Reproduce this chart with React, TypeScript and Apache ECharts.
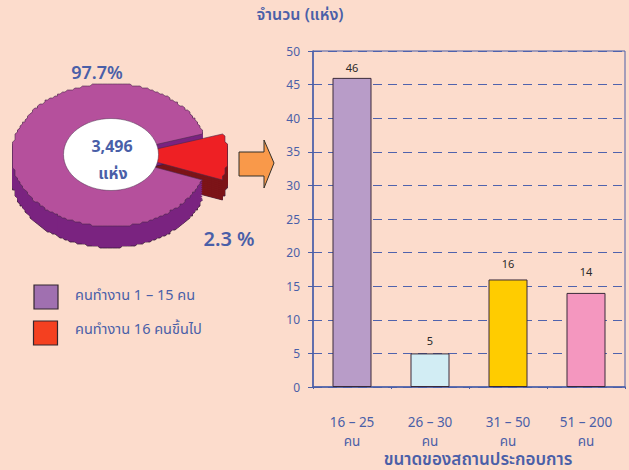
import React, { useEffect, useRef } from "react";
import * as echarts from "echarts";

const categories = ["16 – 25\nคน", "26 – 30\nคน", "31 – 50\nคน", "51 – 200\nคน"];
const barValues = [46, 5, 16, 14];
const barColors = ["#b89cc8", "#d2edf4", "#ffcc00", "#f497bf"];
const barLabelGaps = [5, 7, 10, 16];
const yTicks = { min: 0, max: 50, interval: 5 };

// Printed shares, and the share of the ellipse each slice occupies as drawn in the picture.
const printedShares = ["97.7%", "2.3 %"];
const drawnShares = [89.7, 10.3];
const legendLabels = ["คนทำงาน 1 – 15 คน", "คนทำงาน 16 คนขึ้นไป"];
const centerLabels = ["3,496", "แห่ง"];

const FONT = "'Noto Sans', 'Noto Sans Thai', 'Noto Sans Thai UI', Tahoma, sans-serif";
const BLUE = "#4a5fa8";

const CX = 110, CY = 155, RX = 98, RY = 71.5, DEPTH = 21, RED_DX = 20;

// layer: 0 red wall, 1 purple wall, 2 purple top, 3 red top
const layers = [
  { slice: 1, top: false, fill: "#7c1418" },
  { slice: 0, top: false, fill: "#7a2380" },
  { slice: 0, top: true, fill: "#b5509c" },
  { slice: 1, top: true, fill: "#ee2024" },
];

function slicePoints(slice: number, dy: number) {
  const total = drawnShares[0] + drawnShares[1];
  const redSweep = (drawnShares[1] / total) * 360;
  const lowAngle = -(redSweep * 0.54);
  const from = slice === 1 ? lowAngle : lowAngle + redSweep;
  const sweep = slice === 1 ? redSweep : 360 - redSweep;
  const cx = CX + (slice === 1 ? RED_DX : 0);
  const pts: number[][] = [[cx, CY + dy]];
  const n = Math.ceil(sweep / 1.5);
  for (let i = 0; i <= n; i++) {
    const a = ((from + (sweep * i) / n) * Math.PI) / 180;
    const x = cx + RX * Math.cos(a);
    const y = CY + dy - RY * Math.sin(a);
    pts.push([Math.round(x / 2.5) * 2.5, Math.round(y / 2) * 2]);
  }
  return pts;
}

function renderLayer(params: any) {
  const layer = layers[params.dataIndex];
  if (layer.top) {
    return {
      type: "polygon",
      shape: { points: slicePoints(layer.slice, 0) },
      style: { fill: layer.fill, stroke: "#4a2a4a", lineWidth: 0.6 },
    };
  }
  const children: any[] = [];
  for (let d = DEPTH; d >= 1; d--) {
    children.push({
      type: "polygon",
      shape: { points: slicePoints(layer.slice, d) },
      style:
        d === DEPTH
          ? { fill: layer.fill, stroke: "#3a1a3a", lineWidth: 0.8 }
          : { fill: layer.fill },
    });
  }
  return { type: "group", children };
}

export default function App() {
  const ref = useRef<HTMLDivElement>(null);
  useEffect(() => {
    document.body.style.margin = "0";
    const chart = echarts.init(ref.current!, undefined, { renderer: "svg" });
    const txt = (x: number, y: number, text: string, size: number, weight: any, align = "center") => ({
      type: "text",
      x,
      y,
      z: 20,
      style: {
        text,
        fill: BLUE,
        font: `${weight} ${size}px ${FONT}`,
        textAlign: align,
        textVerticalAlign: "middle",
      },
    });
    chart.setOption({
      animation: false,
      backgroundColor: "#fcdccc",
      grid: { left: 313, right: 4, top: 51, bottom: 83, show: true, borderColor: "#4a5fa8", borderWidth: 1, backgroundColor: "transparent" },
      xAxis: {
        type: "category",
        data: categories,
        axisLine: { lineStyle: { color: "#4a5fa8", width: 1.5 } },
        axisTick: { show: true, length: 2, lineStyle: { color: "#4a5fa8" } },
        axisLabel: { color: BLUE, fontFamily: FONT, fontSize: 13.5, margin: 25, lineHeight: 19, interval: 0 },
      },
      yAxis: {
        type: "value",
        min: yTicks.min,
        max: yTicks.max,
        interval: yTicks.interval,
        axisLine: { show: true, lineStyle: { color: "#4a5fa8", width: 1.5 } },
        axisTick: { show: true, length: 5, lineStyle: { color: "#4a5fa8" } },
        axisLabel: { color: BLUE, fontFamily: FONT, fontSize: 12, margin: 13 },
        splitLine: { show: true, lineStyle: { color: "#4f63ad", type: [9, 6], width: 1 } },
      },
      series: [
        {
          type: "bar",
          data: barValues.map((value, i) => ({
            value,
            itemStyle: { color: barColors[i] },
            label: { distance: barLabelGaps[i] },
          })),
          barWidth: 39,
          itemStyle: { borderColor: "#3a2a3a", borderWidth: 1 },
          label: { show: true, position: "top", color: "#2a2a2a", fontFamily: FONT, fontSize: 11 },
          z: 3,
        },
        {
          type: "custom",
          coordinateSystem: "none",
          data: layers.map((l) => drawnShares[l.slice]),
          renderItem: renderLayer,
          silent: true,
          z: 5,
        },
      ],
      graphic: [
        { type: "ellipse", z: 10, shape: { cx: 111, cy: 154.5, rx: 47.5, ry: 36 }, style: { fill: "#ffffff", stroke: "#4a2a4a", lineWidth: 0.5 } },
        txt(112, 146, centerLabels[0], 16, 700),
        txt(113, 173, centerLabels[1], 16, 700),
        txt(97, 72, printedShares[0], 18, 600),
        txt(229, 238, printedShares[1], 20, 600),
        { type: "polygon", z: 10, shape: { points: [[239, 152], [264, 152], [264, 140], [274, 163], [264, 188], [264, 176], [239, 176]] }, style: { fill: "#f9994a", stroke: "#33302a", lineWidth: 1 } },
        { type: "rect", z: 10, shape: { x: 34, y: 285, width: 24, height: 24 }, style: { fill: "#a070b0", stroke: "#33262e", lineWidth: 1.2 } },
        { type: "rect", z: 10, shape: { x: 33.5, y: 321, width: 24, height: 24 }, style: { fill: "#f44020", stroke: "#33262e", lineWidth: 1.2 } },
        txt(75, 294, legendLabels[0], 14.5, 400, "left"),
        txt(75, 328, legendLabels[1], 14.5, 400, "left"),
        txt(300, 14, "จำนวน (แห่ง)", 16, 600),
        txt(478, 458, "ขนาดของสถานประกอบการ", 17, 600),
      ],
    });
    return () => chart.dispose();
  }, []);
  return <div ref={ref} style={{ width: 629, height: 470 }} />;
}
